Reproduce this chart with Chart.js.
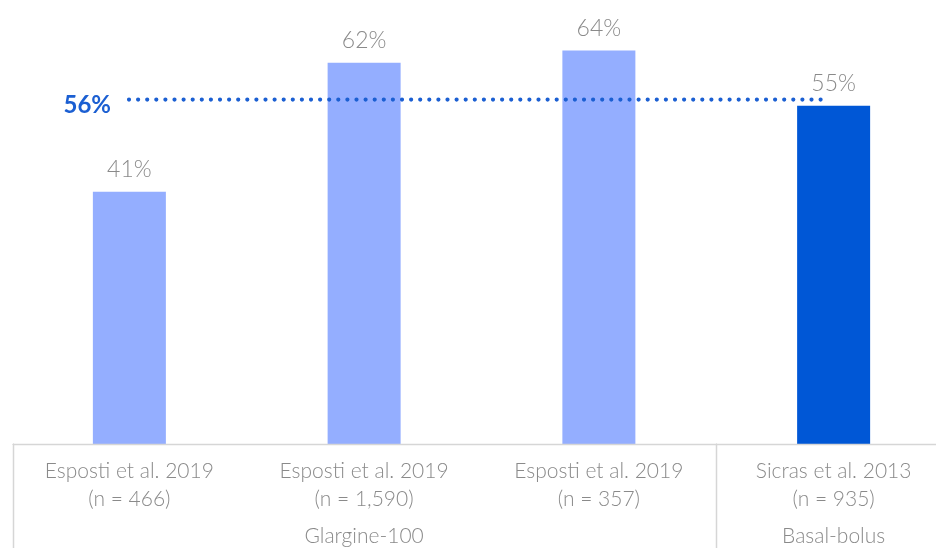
<!DOCTYPE html>
<html><head><meta charset="utf-8">
<script src="https://cdn.jsdelivr.net/npm/chart.js@4"></script>
<style>
html,body{margin:0;padding:0;background:#fff;overflow:hidden;width:936px;height:548px;}
#wrap{position:absolute;left:0;top:0;width:951px;height:548px;}
</style></head><body>
<div id="wrap"><canvas id="c" width="951" height="548"></canvas></div>
<script>
const categories = [
  ['Esposti et al. 2019', '(n = 466)'],
  ['Esposti et al. 2019', '(n = 1,590)'],
  ['Esposti et al. 2019', '(n = 357)'],
  ['Sicras et al. 2013', '(n = 935)']
];
const values = [41, 62, 64, 55];
const barColors = ['#94aeff', '#94aeff', '#94aeff', '#0057d6'];
const referenceValue = 56;
const referenceLabel = '56%';
const groups = [
  { label: 'Glargine-100', from: 0, to: 2 },
  { label: 'Basal-bolus', from: 3, to: 3 }
];

const FONT = 'Lato, "Open Sans", sans-serif';
const GRAY = '#8a8a8a';
const BORDER = '#d6d6d6';

const overlay = {
  id: 'overlay',
  afterDatasetsDraw(chart) {
    const ctx = chart.ctx;
    const x = chart.scales.x, y = chart.scales.y;
    const area = chart.chartArea;
    const meta = chart.getDatasetMeta(0);
    ctx.save();
    // value labels
    ctx.fillStyle = GRAY;
    ctx.font = '300 23px ' + FONT;
    ctx.textAlign = 'center';
    ctx.textBaseline = 'middle';
    meta.data.forEach((bar, i) => {
      ctx.fillText(values[i] + '%', bar.x, bar.y - 22);
    });
    // reference dotted line
    const ry = y.getPixelForValue(referenceValue);
    ctx.strokeStyle = '#1b5fd2';
    ctx.lineWidth = 4.2;
    ctx.lineCap = 'round';
    ctx.setLineDash([0, 9.1]);
    ctx.beginPath();
    ctx.moveTo(129, ry);
    ctx.lineTo(829, ry);
    ctx.stroke();
    ctx.setLineDash([]);
    ctx.fillStyle = '#1b5fd2';
    ctx.font = 'bold 24px ' + FONT;
    ctx.textAlign = 'right';
    ctx.fillText(referenceLabel, 111, ry + 6);
    // bottom box
    const base = area.bottom;
    ctx.strokeStyle = BORDER;
    ctx.lineWidth = 1.5;
    ctx.beginPath();
    ctx.moveTo(13, base + 0.5); ctx.lineTo(chart.width, base + 0.5);
    ctx.moveTo(13.5, base); ctx.lineTo(13.5, chart.height);
    const divX = (x.getPixelForValue(2) + x.getPixelForValue(3)) / 2;
    ctx.moveTo(Math.round(divX) + 0.5, base); ctx.lineTo(Math.round(divX) + 0.5, chart.height);
    ctx.stroke();
    // group labels
    ctx.fillStyle = GRAY;
    ctx.font = '300 21px ' + FONT;
    ctx.textAlign = 'center';
    ctx.textBaseline = 'middle';
    groups.forEach(g => {
      const cx = (x.getPixelForValue(g.from) + x.getPixelForValue(g.to)) / 2;
      ctx.fillText(g.label, cx, 536);
    });
    ctx.restore();
  }
};

new Chart(document.getElementById('c'), {
  type: 'bar',
  data: {
    labels: categories,
    datasets: [{
      data: values,
      backgroundColor: barColors,
      borderWidth: 0,
      barPercentage: 0.311,
      categoryPercentage: 1.0
    }]
  },
  options: {
    responsive: false,
    animation: false,
    layout: { padding: { left: 12, right: 0, top: 0, bottom: 0 } },
    plugins: { legend: { display: false }, tooltip: { enabled: false } },
    scales: {
      y: { display: false, min: 0, max: 72.2 },
      x: {
        grid: { display: false },
        border: { display: false },
        ticks: {
          color: GRAY,
          font: { family: FONT, size: 21, weight: '300', lineHeight: 1.3 },
          padding: 6,
          maxRotation: 0,
          autoSkip: false
        },
        afterFit(scale) { scale.height = 104; }
      }
    }
  },
  plugins: [overlay]
});
</script>
</body></html>
